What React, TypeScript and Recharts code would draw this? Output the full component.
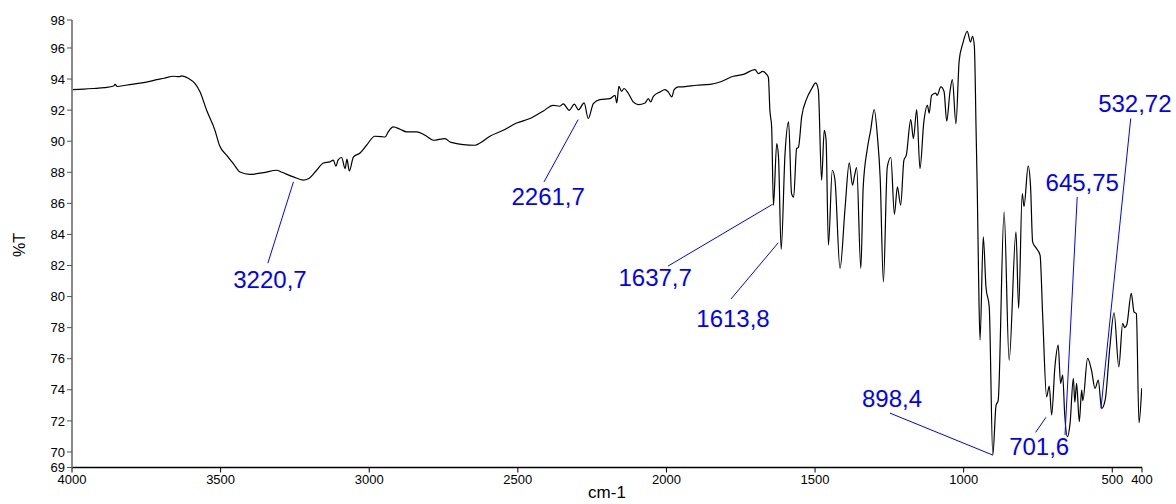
import React from 'react';
import { LineChart, Line, XAxis, YAxis, ReferenceLine, ReferenceDot } from 'recharts';

const wavenumbers = [
  4000, 3960, 3928, 3890, 3860, 3855, 3848, 3820, 3782, 3750, 3715, 3690, 3659, 3640, 3631, 3607, 3586, 3569, 3547, 3519,
  3504, 3480, 3455, 3435, 3401, 3356, 3311, 3296, 3255, 3222, 3205, 3177, 3154, 3132, 3121, 3112, 3105, 3093, 3081, 3075,
  3067, 3053, 3031, 3009, 2981, 2960, 2947, 2936, 2919, 2896, 2874, 2840, 2807, 2784, 2745, 2728, 2717, 2684, 2644, 2627,
  2594, 2549, 2504, 2459, 2414, 2381, 2360, 2347, 2327, 2310, 2296, 2277, 2263, 2246, 2224, 2190, 2173, 2167, 2160, 2151,
  2143, 2128, 2112, 2095, 2072, 2061, 2053, 2044, 2022, 2005, 1994, 1982, 1974, 1960, 1943, 1898, 1853, 1820, 1775, 1741,
  1702, 1691, 1676, 1663, 1657, 1652, 1646, 1640, 1629, 1623, 1614, 1601, 1589, 1579, 1572, 1562, 1556, 1545, 1528, 1511,
  1498, 1489, 1478, 1469, 1463, 1455, 1442, 1433, 1416, 1399, 1385, 1374, 1367, 1360, 1346, 1338, 1324, 1313, 1301, 1290,
  1281, 1270, 1257, 1245, 1233, 1223, 1212, 1201, 1193, 1178, 1169, 1158, 1147, 1134, 1122, 1116, 1108, 1094, 1089, 1077,
  1066, 1057, 1046, 1038, 1026, 1015, 1003, 988, 977, 970, 964, 958, 954, 950, 945, 934, 925, 914, 902, 891,
  884, 864, 847, 824, 815, 803, 797, 783, 775, 768, 759, 743, 734, 721, 712, 704, 693, 682, 674, 667,
  660, 651, 642, 631, 626, 620, 611, 603, 599, 583, 570, 558, 547, 536, 524, 508, 494, 478, 465, 458,
  451, 436, 427, 419, 410, 401,
];

const transmittance = [
  93.32, 93.35, 93.39, 93.45, 93.55, 93.66, 93.52, 93.6, 93.71, 93.8, 93.96, 94.05, 94.18, 94.15, 94.2, 94.03, 93.71, 93.17, 91.99, 90.7,
  89.74, 89.1, 88.5, 88.02, 87.87, 87.98, 88.13, 88.02, 87.7, 87.5, 87.58, 88.13, 88.6, 88.67, 88.78, 88.39, 88.78, 88.95, 88.24, 88.84,
  88.09, 88.99, 89.24, 89.74, 90.32, 90.3, 90.27, 90.6, 90.92, 90.77, 90.6, 90.6, 90.32, 90.06, 90.17, 89.95, 89.89, 89.78, 89.74, 89.89,
  90.32, 90.7, 91.17, 91.46, 91.95, 92.31, 92.25, 92.4, 91.99, 92.38, 92.02, 92.46, 91.46, 92.42, 92.68, 92.74, 92.95, 92.46, 93.53, 93.2,
  93.39, 93.07, 92.53, 92.36, 92.46, 92.74, 92.53, 92.89, 93.17, 93.32, 93.17, 92.85, 93.32, 93.49, 93.5, 93.6, 93.66, 93.81, 94.18, 94.3,
  94.61, 94.35, 94.5, 94.3, 94.1, 92.0, 90.9, 85.88, 89.85, 89.0, 83.03, 89.2, 91.24, 86.63, 86.4, 89.53, 89.6, 91.56, 92.74, 93.39,
  93.75, 93.3, 87.49, 90.7, 90.1, 83.31, 88.13, 87.5, 81.81, 85.7, 88.6, 87.17, 87.8, 88.3, 81.81, 87.06, 89.53, 90.7, 92.04, 90.27,
  87.7, 80.95, 88.34, 88.95, 85.3, 87.06, 85.88, 88.78, 89.1, 91.39, 90.17, 92.04, 88.24, 91.24, 92.31, 91.8, 92.95, 93.1, 92.95, 93.49,
  93.2, 91.3, 93.2, 93.96, 91.13, 95.2, 96.28, 97.07, 96.38, 96.75, 96.1, 90.5, 86.6, 81.5, 77.2, 83.84, 80.63, 79.34, 69.8, 73.0,
  73.3, 85.45, 75.91, 84.16, 79.24, 86.63, 85.8, 88.39, 87.1, 83.52, 83.2, 82.67, 78.7, 73.55, 74.24, 72.38, 75.48, 76.88, 74.41, 74.95,
  72.4, 70.98, 71.84, 74.74, 73.2, 74.41, 71.95, 73.98, 73.3, 76.02, 75.27, 74.09, 74.63, 72.8, 73.34, 76.77, 78.96, 75.48, 78.27, 78.0,
  78.2, 80.2, 79.02, 78.9, 71.88, 74.1,
];

const xTicks = [4000, 3500, 3000, 2500, 2000, 1500, 1000, 500, 400];
const yTicks = [69, 70, 72, 74, 76, 78, 80, 82, 84, 86, 88, 90, 92, 94, 96, 97.8];

// peak annotations: label, line start (peak end), line end, text centre — all in data units
const peakLabels = ['3220,7', '2261,7', '1637,7', '1613,8', '898,4', '701,6', '645,75', '532,72'];
const peakLineFrom = [
  [3255, 87.38], [2297, 91.39], [1642, 85.95], [1624, 83.46], [902, 69.8], [723, 72.23], [618, 86.41], [438, 91.46],
];
const peakLineTo = [
  [3341, 82.15], [2412, 87.38], [1995, 81.96], [1783, 79.84], [1248, 72.5], [758, 71.26], [659, 71.09], [538, 72.81],
];
const peakTextAt = [
  [3334, 81.12], [2398, 86.46], [2038, 81.2], [1776, 78.61], [1241, 73.47], [746, 70.38], [601, 87.36], [424, 92.44],
];

const data = wavenumbers.map((wn, i) => ({ wn, t: transmittance[i] }));

const FONT = '"Liberation Sans", Arial, Helvetica, sans-serif';
const BLUE = '#0000ff';

export default function App() {
  return (
    <div style={{ position: 'absolute', left: 0, top: 0, width: 1176, height: 504, background: '#fff', fontFamily: FONT }}>
      <LineChart width={1176} height={504} data={data} margin={{ top: 20, right: 34, bottom: 0, left: 0 }}>
        <XAxis
          dataKey="wn"
          type="number"
          domain={[400, 4000]}
          reversed
          ticks={xTicks}
          interval={0}
          height={36.5}
          tickSize={5}
          axisLine={{ stroke: '#000', strokeWidth: 1.5 }}
          tickLine={{ stroke: '#000' }}
          tick={{ fill: '#000', fontSize: 13, fontFamily: FONT }}
          allowDataOverflow
        />
        <YAxis
          type="number"
          domain={[69, 97.8]}
          ticks={yTicks}
          interval={0}
          width={72}
          tickSize={5}
          tickFormatter={(v: number) => String(Math.round(v))}
          axisLine={{ stroke: '#8a8a8a', strokeWidth: 2 }}
          tickLine={{ stroke: '#555' }}
          tick={{ fill: '#000', fontSize: 13, fontFamily: FONT }}
          allowDataOverflow
        />
        <Line
          type="monotone"
          dataKey="t"
          stroke="#000"
          strokeWidth={1.2}
          dot={false}
          activeDot={false}
          isAnimationActive={false}
        />
        {peakLabels.map((lab, i) => (
          <ReferenceLine
            key={'l' + i}
            segment={[
              { x: peakLineFrom[i][0], y: peakLineFrom[i][1] },
              { x: peakLineTo[i][0], y: peakLineTo[i][1] },
            ]}
            stroke={BLUE}
            strokeWidth={1}
            ifOverflow="visible"
          />
        ))}
        {peakLabels.map((lab, i) => (
          <ReferenceDot
            key={'d' + i}
            x={peakTextAt[i][0]}
            y={peakTextAt[i][1]}
            r={0}
            fill="none"
            stroke="none"
            ifOverflow="visible"
            label={{ value: lab, position: 'center', fill: BLUE, fontSize: 24, fontFamily: FONT }}
          />
        ))}
      </LineChart>
      <div
        style={{
          position: 'absolute',
          left: 607,
          top: 493,
          transform: 'translate(-50%, -50%)',
          fontSize: 17,
          color: '#000',
          whiteSpace: 'nowrap',
        }}
      >
        cm-1
      </div>
      <div
        style={{
          position: 'absolute',
          left: 20,
          top: 245,
          transform: 'translate(-50%, -50%) rotate(-90deg)',
          fontSize: 16,
          color: '#000',
          whiteSpace: 'nowrap',
        }}
      >
        %T
      </div>
    </div>
  );
}
